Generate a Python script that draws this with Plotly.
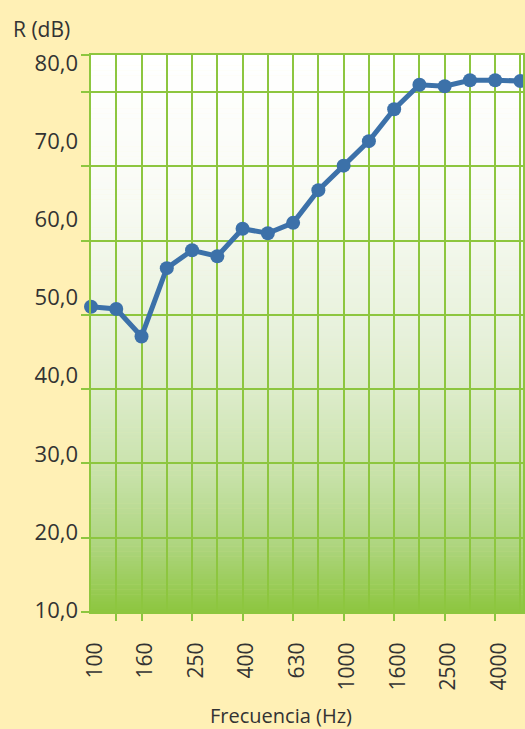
import plotly.graph_objects as go

# Third-octave band centre frequencies (Hz) and sound reduction index R (dB)
freqs = ["100", "125", "160", "200", "250", "315", "400", "500", "630",
         "800", "1000", "1250", "1600", "2000", "2500", "3150", "4000", "5000"]
r_db = [51.1, 50.8, 47.1, 56.3, 58.7, 57.9, 61.6, 61.0, 62.4,
        66.8, 70.1, 73.4, 77.7, 81.0, 80.8, 81.6, 81.6, 81.5]

# Frequencies that carry a label, and those that carry a tick mark
labelled = ["100", "160", "250", "400", "630", "1000", "1600", "2500", "4000"]
tick_marks = ["125", "160", "250", "400", "630", "1000", "1600", "2500", "4000"]

# Vertical axis
y_min, y_max = 10, 85
y_grid = [10, 20, 30, 40, 50, 60, 70, 80]
y_labels = ["10,0", "20,0", "30,0", "40,0", "50,0", "60,0", "70,0", "80,0"]

GREEN = "#8DC63F"
BLUE = "#3C71A9"
PAPER = "#FFF0B5"
TEXT = "#333333"
FONT = "Open Sans"

idx = list(range(len(freqs)))
x_max = 17.1

fig = go.Figure()

fig.add_trace(go.Scatter(
    x=idx, y=r_db, mode="lines+markers",
    line=dict(color=BLUE, width=5),
    marker=dict(color=BLUE, size=14),
    cliponaxis=False, showlegend=False, hoverinfo="x+y",
))

# helper trace so the overlay axes (tick marks / offset labels) get drawn
fig.add_trace(go.Scatter(
    x=[0], y=[y_min], xaxis="x2", yaxis="y2", mode="markers",
    marker=dict(opacity=0), showlegend=False, hoverinfo="skip",
))

# vertical white-to-green background gradient built from thin bands
stops = [(0.0, (255, 255, 255)), (0.25, (249, 251, 245)), (0.5, (231, 241, 219)),
         (0.6, (221, 236, 203)), (0.75, (200, 226, 170)), (0.88, (174, 213, 127)),
         (1.0, (141, 198, 63))]


def grad(t):
    for (t0, c0), (t1, c1) in zip(stops[:-1], stops[1:]):
        if t <= t1:
            f = (t - t0) / (t1 - t0)
            return "rgb(%d,%d,%d)" % tuple(round(a + (b - a) * f) for a, b in zip(c0, c1))
    return "rgb(%d,%d,%d)" % stops[-1][1]


n_bands = 220
for i in range(n_bands):
    top = 1 - i / n_bands
    bot = 1 - (i + 1) / n_bands
    fig.add_shape(type="rect", xref="x domain", yref="y domain",
                  x0=0, x1=1, y0=bot - 0.001, y1=top,
                  fillcolor=grad((i + 0.5) / n_bands), line=dict(width=0),
                  layer="below")

fig.update_layout(
    width=525, height=729,
    margin=dict(l=91, r=0, t=55, b=117),
    paper_bgcolor=PAPER, plot_bgcolor="rgba(0,0,0,0)",
    font=dict(family=FONT, color=TEXT, size=21),
    xaxis=dict(
        range=[0, x_max], tickmode="array", tickvals=idx,
        ticktext=[f if f in labelled else "" for f in freqs],
        tickangle=-90, ticks="", showgrid=True, gridcolor=GREEN, gridwidth=2,
        showline=True, mirror=True, linecolor=GREEN, linewidth=2,
        zeroline=False, ticklabelstandoff=20, ticklabelshift=4,
        tickfont=dict(family=FONT, size=21, color=TEXT),
    ),
    xaxis2=dict(
        overlaying="x", anchor="y2", range=[0, x_max], tickmode="array",
        tickvals=[freqs.index(f) for f in tick_marks],
        ticks="outside", ticklen=8, tickwidth=2, tickcolor=GREEN,
        showticklabels=False, showgrid=False, zeroline=False,
    ),
    yaxis=dict(
        range=[y_min, y_max], tickmode="array", tickvals=y_grid + [y_max],
        ticks="outside", ticklen=8, tickwidth=2, tickcolor=GREEN,
        showticklabels=False, showgrid=True, gridcolor=GREEN, gridwidth=2,
        showline=True, mirror=True, linecolor=GREEN, linewidth=2, zeroline=False,
    ),
    yaxis2=dict(
        overlaying="y", anchor="x2", side="left",
        range=[9.744, 81.09], tickmode="array", tickvals=y_grid, ticktext=y_labels,
        ticks="", showgrid=False, zeroline=False, ticklabelstandoff=12,
        tickfont=dict(family=FONT, size=22, color=TEXT),
    ),
    annotations=[
        dict(text="Frecuencia (Hz)", xref="paper", yref="paper",
             x=0.44, y=-0.1865, xanchor="center", yanchor="middle",
             showarrow=False, font=dict(family=FONT, size=20, color=TEXT)),
        dict(text="R (dB)", xref="paper", yref="paper",
             x=-0.115, y=1.0475, xanchor="center", yanchor="middle",
             showarrow=False, font=dict(family=FONT, size=21, color=TEXT)),
    ],
)

fig.write_html("out.html")
